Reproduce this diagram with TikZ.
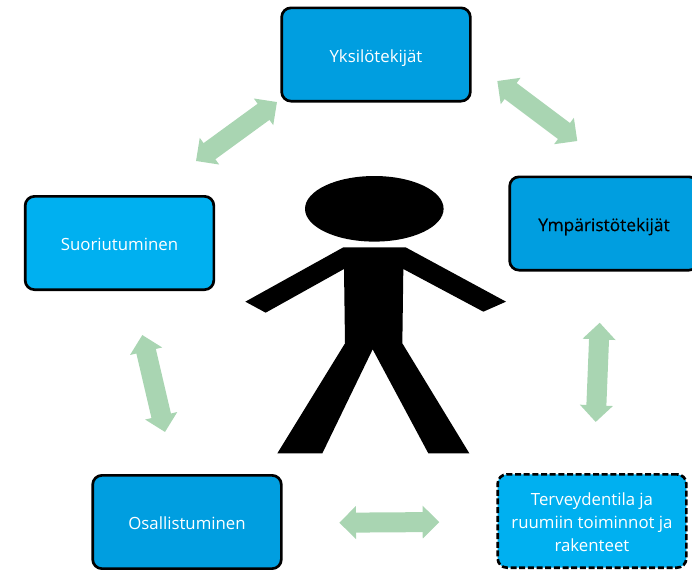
\documentclass[tikz,border=0pt]{standalone}
\usepackage{fontspec}
\setmainfont{Open Sans}
\usetikzlibrary{arrows.meta}
\definecolor{boxdark}{RGB}{0,158,224}
\definecolor{boxlight}{RGB}{0,176,240}
\definecolor{arrowgreen}{RGB}{169,213,178}
\newcommand\boxtext[1]{\raisebox{-5.3pt}[0pt][0pt]{\begin{tabular}{@{}c@{}}#1\end{tabular}}}
\tikzset{
  box/.style={draw=black,line width=2pt,rounded corners=7pt,minimum width=141.5pt,minimum height=70pt,inner sep=0pt,text=white,font=\fontsize{12.6}{17}\selectfont},
  dashbox/.style={dash pattern=on 4.5pt off 2pt},
  dblarrow/.style={draw=arrowgreen,line width=15pt,{Triangle[length=12.5pt,width=24pt]}-{Triangle[length=12.5pt,width=24pt]}},
}
\begin{document}
\begin{tikzpicture}[x=0.75pt,y=-0.75pt]
\useasboundingbox (0,0) rectangle (692,569);
\clip (0,0) rectangle (692,569);
\node[box,fill=boxdark] (yks) at (376,54.5) {\boxtext{Yksilötekijät}};
\node[box,fill=boxdark,text=black,font=\fontsize{13}{17}\selectfont] (ymp) at (604,223.5) {\addfontfeature{FakeBold=0.25}\boxtext{Ympäristötekijät}};
\node[box,fill=boxlight] (suo) at (119.5,243) {\boxtext{Suoriutuminen}};
\node[box,fill=boxdark] (osa) at (187,522) {\boxtext{Osallistuminen}};
\node[box,fill=boxlight,dashbox] (ter) at (592,521) {\boxtext{Terveydentila ja\\ruumiin toiminnot ja\\rakenteet}};
\coordinate (a1) at (277,102);
\coordinate (a2) at (196,161);
\coordinate (b1) at (497.3,81);
\coordinate (b2) at (577.3,141);
\coordinate (c1) at (599.7,322.7);
\coordinate (c2) at (595.7,422);
\coordinate (d1) at (339.3,522.7);
\coordinate (d2) at (439.3,522);
\coordinate (e1) at (142.3,335);
\coordinate (e2) at (165,432);
\draw[dblarrow] (a1) -- (a2);
\draw[dblarrow] (b1) -- (b2);
\draw[dblarrow] (c1) -- (c2);
\draw[dblarrow] (d1) -- (d2);
\draw[dblarrow] (e1) -- (e2);
\fill[black] (374.3,208.8) ellipse [x radius=69.3,y radius=32.8];
\begin{scope}[shift={(230,160)},x=0.25pt,y=-0.25pt]
\fill[black] (340,262) -- (527,262) -- (828,425) -- (760,455) -- (520,327) -- (517,550) -- (718,880) -- (595,880) -- (428,568) -- (277,880) -- (142,880) -- (345,550) -- (342,327) -- (107,458) -- (46,425) -- cycle;
\end{scope}
\end{tikzpicture}
\end{document}
